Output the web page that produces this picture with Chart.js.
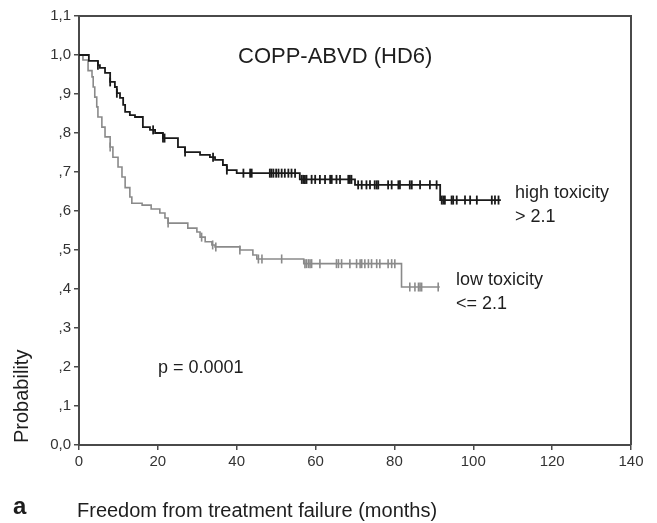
<!DOCTYPE html>
<html>
<head>
<meta charset="utf-8">
<script src="https://cdn.jsdelivr.net/npm/chart.js@4/dist/chart.umd.min.js"></script>
<style>
  html, body { margin: 0; padding: 0; background: #fff; }
  #wrap { width: 657px; height: 523px; position: relative; }
</style>
</head>
<body>
<div id="wrap"><canvas id="kmChart"></canvas></div>
<script>
// step points of the two Kaplan-Meier curves (months, probability)
const highMonths = [0, 2.5, 4.8, 5.3, 6.6, 7.9, 9.1, 9.6, 10.4, 11.2, 11.7, 12.9, 14.2, 16.2, 18, 19.3, 21.3, 25.1, 26.9, 30.7, 33.2, 34.5, 36.5, 37.5, 40, 56, 70, 91.6, 107];
const highSurv = [1.0, 0.985, 0.974, 0.967, 0.954, 0.931, 0.918, 0.902, 0.89, 0.872, 0.854, 0.846, 0.841, 0.815, 0.808, 0.80, 0.787, 0.764, 0.751, 0.744, 0.738, 0.731, 0.718, 0.705, 0.697, 0.681, 0.667, 0.628, 0.628];

const lowMonths = [0, 1, 2.3, 3.3, 3.6, 4.0, 4.5, 4.8, 5.8, 6.6, 7.9, 8.6, 9.9, 10.9, 11.7, 12.9, 13.4, 16, 18.3, 20.5, 21.8, 22.6, 27.6, 29.9, 30.7, 32, 33.7, 34.5, 40.8, 44.1, 45.1, 57, 81.8, 91.5];
const lowSurv = [1.0, 0.987, 0.96, 0.944, 0.918, 0.892, 0.867, 0.841, 0.815, 0.79, 0.764, 0.738, 0.713, 0.687, 0.66, 0.636, 0.62, 0.615, 0.605, 0.595, 0.582, 0.569, 0.556, 0.546, 0.533, 0.521, 0.513, 0.508, 0.5, 0.487, 0.477, 0.465, 0.405, 0.405];

// censored observations (months)
const highCensor = [4.8, 7.9, 9.6, 18.8, 21.3, 21.7, 26.9, 34, 37.5, 41.7, 43.4, 43.8, 48.4, 48.8, 49.3, 50, 50.6, 51.4, 52.2, 53.1, 53.9, 54.8, 56.5, 56.9, 57.3, 57.7, 59, 59.9, 61.1, 62.4, 63.7, 64.1, 65.3, 66.2, 68.3, 68.7, 69.1, 70.8, 71.7, 72.9, 73.8, 75, 75.5, 75.9, 78.4, 79.3, 81, 81.4, 83.9, 84.4, 86.5, 89, 90.7, 92, 92.4, 92.8, 94.5, 94.9, 95.8, 97.9, 99.2, 100.9, 104.7, 105.5, 106.4];
const lowCensor = [7.9, 22.6, 31.1, 33.9, 34.7, 40.8, 45.5, 46.4, 51.4, 57.3, 57.7, 58.2, 58.6, 59, 61.1, 65.3, 65.8, 66.6, 68.7, 70.4, 71.3, 71.7, 72.5, 73.4, 74.2, 75.5, 76.3, 78.4, 79.3, 80.1, 83.9, 85.2, 86.1, 86.5, 86.9, 91.1];

const yTickLabels = ['0,0', ',1', ',2', ',3', ',4', ',5', ',6', ',7', ',8', ',9', '1,0', '1,1'];

const FONT = '"Liberation Sans", Arial, sans-serif';
const BLACK = '#1a1a1a';
const GREY = '#8a8a8a';
const AXIS = '#4a4a4a';

function toPoints(xs, ys) {
  return xs.map((x, i) => ({ x: x, y: ys[i] }));
}

// value of the step curve at time t
function survAt(xs, ys, t) {
  let v = ys[0];
  for (let i = 0; i < xs.length; i++) {
    if (xs[i] <= t) v = ys[i];
  }
  return v;
}

function censorPoints(times, xs, ys) {
  return times.map(t => ({ x: t, y: survAt(xs, ys, t) }));
}

const frameAndText = {
  id: 'frameAndText',
  afterDraw(chart) {
    const ctx = chart.ctx;
    const a = chart.chartArea;
    ctx.save();
    ctx.strokeStyle = AXIS;
    ctx.lineWidth = 2;
    ctx.beginPath();
    ctx.moveTo(a.left, a.top);
    ctx.lineTo(a.right, a.top);
    ctx.lineTo(a.right, a.bottom);
    ctx.stroke();

    ctx.fillStyle = '#1e1e1e';
    ctx.textBaseline = 'alphabetic';
    ctx.textAlign = 'left';
    ctx.font = '22px ' + FONT;
    ctx.fillText('COPP-ABVD (HD6)', 238, 63);

    ctx.font = '18px ' + FONT;
    ctx.fillText('high toxicity', 515, 198);
    ctx.fillText('> 2.1', 515, 222);
    ctx.fillText('low toxicity', 456, 285);
    ctx.fillText('<= 2.1', 456, 309);
    ctx.fillText('p = 0.0001', 158, 373);

    ctx.font = '20px ' + FONT;
    ctx.fillText('Freedom from treatment failure (months)', 77, 517);

    ctx.font = 'bold 24px ' + FONT;
    ctx.fillText('a', 13, 514);

    ctx.font = '20px ' + FONT;
    ctx.translate(28, 443);
    ctx.rotate(-Math.PI / 2);
    ctx.fillText('Probability', 0, 0);
    ctx.restore();
  }
};

const config = {
  type: 'scatter',
  data: {
    datasets: [
      {
        label: 'high toxicity',
        data: toPoints(highMonths, highSurv),
        showLine: true,
        stepped: true,
        borderColor: BLACK,
        borderWidth: 1.8,
        pointRadius: 0
      },
      {
        label: 'low toxicity',
        data: toPoints(lowMonths, lowSurv),
        showLine: true,
        stepped: true,
        borderColor: GREY,
        borderWidth: 1.6,
        pointRadius: 0
      },
      {
        label: 'high censored',
        data: censorPoints(highCensor, highMonths, highSurv),
        showLine: false,
        pointStyle: 'line',
        rotation: 90,
        pointRadius: 4.5,
        borderColor: BLACK,
        pointBorderWidth: 1.8
      },
      {
        label: 'low censored',
        data: censorPoints(lowCensor, lowMonths, lowSurv),
        showLine: false,
        pointStyle: 'line',
        rotation: 90,
        pointRadius: 4.5,
        borderColor: GREY,
        pointBorderWidth: 1.6
      }
    ]
  },
  options: {
    responsive: false,
    animation: false,
    layout: { padding: { left: 0, top: 16, right: 26, bottom: 0 } },
    plugins: {
      legend: { display: false },
      tooltip: { enabled: false }
    },
    scales: {
      x: {
        type: 'linear',
        min: 0,
        max: 140,
        ticks: { stepSize: 20, color: '#333', font: { family: FONT, size: 15 }, padding: 3, maxRotation: 0 },
        grid: { drawOnChartArea: false, drawTicks: true, tickLength: 5, color: AXIS, lineWidth: 1.5 },
        border: { display: true, color: AXIS, width: 2 },
        afterFit(scale) { scale.height = 78; }
      },
      y: {
        min: 0,
        max: 1.1,
        ticks: {
          stepSize: 0.1,
          color: '#333',
          font: { family: FONT, size: 15 },
          padding: 3,
          callback: (value, index) => yTickLabels[index]
        },
        grid: { drawOnChartArea: false, drawTicks: true, tickLength: 5, color: AXIS, lineWidth: 1.5 },
        border: { display: true, color: AXIS, width: 2 },
        afterFit(scale) { scale.width = 79; }
      }
    }
  },
  plugins: [frameAndText]
};

const canvas = document.getElementById('kmChart');
canvas.width = 657;
canvas.height = 523;
const kmChart = new Chart(canvas, config);
</script>
</body>
</html>
